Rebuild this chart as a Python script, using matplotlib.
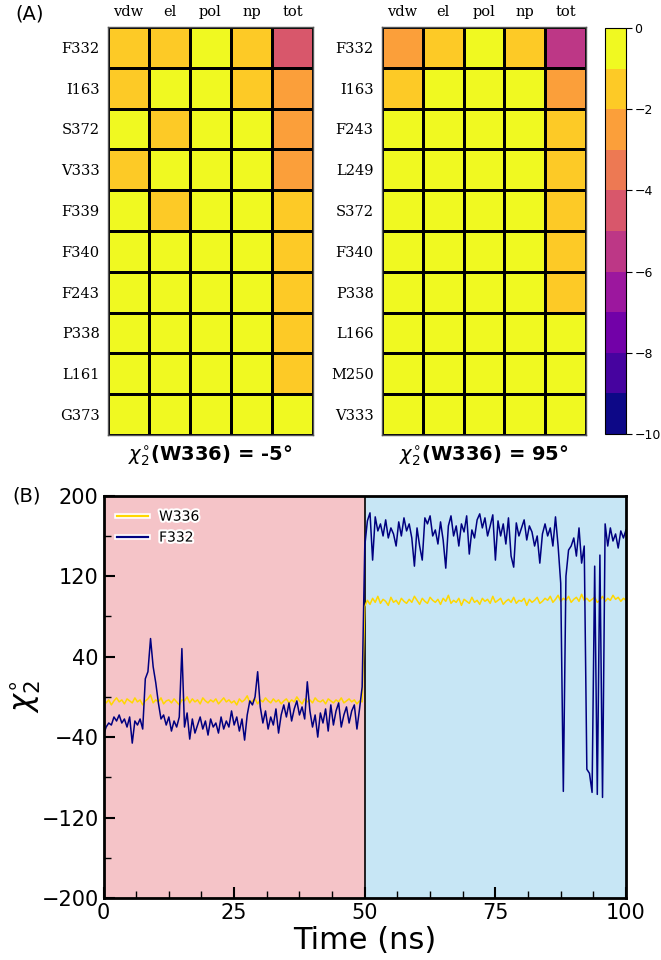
import numpy as np
import matplotlib
matplotlib.use("Agg")
import matplotlib.pyplot as plt
import matplotlib.patheffects as pe

# ---- panel A data: per-residue energy decomposition (kcal/mol)
terms = ["vdw", "el", "pol", "np", "tot"]

res_m5 = ["F332", "I163", "S372", "V333", "F339", "F340", "F243", "P338", "L161", "G373"]
energy_m5 = np.array([
    [-1.5, -1.4, -0.3, -1.6, -4.6],
    [-1.3, -0.5, -0.1, -1.2, -2.6],
    [-0.4, -1.3, -0.2, -0.3, -2.5],
    [-1.2, -0.3, -0.1, -0.6, -2.3],
    [-0.2, -1.5, -0.1, -0.2, -1.8],
    [-0.5, -0.3, -0.1, -0.4, -1.4],
    [-0.6, -0.2, -0.1, -0.5, -1.3],
    [-0.4, -0.2, -0.1, -0.3, -1.2],
    [-0.5, -0.3, -0.1, -0.4, -1.1],
    [-0.4, -0.2, -0.1, -0.3, -0.8],
])

res_95 = ["F332", "I163", "F243", "L249", "S372", "F340", "P338", "L166", "M250", "V333"]
energy_95 = np.array([
    [-2.4, -1.5, -0.2, -1.6, -5.4],
    [-1.6, -0.5, -0.1, -0.8, -2.7],
    [-0.7, -0.3, -0.1, -0.6, -1.6],
    [-0.6, -0.3, -0.1, -0.5, -1.5],
    [-0.5, -0.6, -0.1, -0.4, -1.4],
    [-0.5, -0.3, -0.1, -0.4, -1.3],
    [-0.4, -0.3, -0.1, -0.3, -1.2],
    [-0.4, -0.1, -0.1, -0.3, -0.9],
    [-0.4, -0.2, -0.1, -0.3, -0.8],
    [-0.3, -0.2, -0.1, -0.3, -0.7],
])

# ---- panel B data: chi2 dihedral vs time (0.5 ns steps)
w336_first = [-2, -6, -3, -8, -4, -1, -5, -3, -7, -2, -4, -6, -1, -5, -3, -8, -4, -2, 2, -6,
              -3, -5, -1, -7, -4, -3, -6, -2, -5, -8, -3, -4, 0, -6, -2, -5, -3, -7, -1, -4,
              -6, -3, -5, -2, -7, -4, -1, -5, -3, -6, -4, -8, -2, -5, -3, 1, -6, -4, -2, -7,
              -3, -5, -1, -4, -6, -2, -5, -3, -7, -4, -2, -6, -3, -5, 0, -4, -7, -2, -5, -3,
              -6, -1, -4, -5, -3, -7, -2, -4, -6, -3, -5, -1, -6, -4, -2, -5, -3, -7, -4, -5]
w336_second = [90, 96, 92, 98, 94, 100, 93, 97, 95, 91, 99, 94, 96, 92, 98, 95, 93, 97, 94, 100,
               96, 92, 98, 95, 93, 99, 96, 94, 97, 92, 98, 95, 101, 93, 96, 94, 98, 91, 97, 95,
               93, 99, 94, 96, 92, 98, 95, 97, 93, 100, 94, 96, 98, 92, 95, 97, 94, 99, 93, 96,
               95, 98, 91, 97, 94, 96, 99, 93, 95, 98, 96, 100, 94, 97, 101, 95, 98, 96, 100, 94,
               97, 99, 95, 102, 96, 98, 95, 97, 99, 94, 96, 100, 95, 98, 96, 101, 97, 99, 95, 98, 96]

f332_first = [-38, -30, -26, -28, -20, -24, -18, -26, -22, -30, -20, -46, -24, -28, -22, -32, 18, 25, 58, 30,
              14, -6, -22, -18, -28, -20, -34, -24, -30, -20, 48, -30, -16, -42, -22, -36, -28, -20, -32, -24,
              -38, -22, -30, -26, -36, -20, -32, -24, -30, -14, -28, -20, -34, -22, -43, -18, -4, -8, 0, 25,
              -10, -26, -14, -32, -20, -28, -12, -36, -18, -8, -20, -6, -24, -12, -4, -18, -10, -22, 15, -14,
              -30, -18, -40, -16, -26, -12, -34, -8, -28, -14, -6, -30, -18, -10, -26, -14, -8, -32, -12, 10]
f332_second = [150, 175, 183, 136, 179, 165, 172, 160, 176, 158, 168, 162, 150, 174, 160, 178, 165, 172, 158, 130,
               168, 150, 136, 178, 172, 180, 160, 166, 152, 174, 156, 128, 170, 180, 160, 170, 150, 172, 164, 180,
               142, 166, 158, 176, 182, 168, 178, 160, 170, 181, 136, 175, 160, 172, 152, 178, 140, 129, 173, 160,
               168, 176, 156, 170, 164, 150, 160, 133, 162, 172, 160, 168, 150, 179, 150, 113, -94, 120, 146, 150,
               158, 140, 168, 133, 150, -72, -76, -95, 130, -97, 141, -100, 172, 150, 168, 155, 162, 148, 165, 158, 166]

t_first = np.linspace(0, 49.5, len(w336_first))
t_second = np.linspace(50, 100, len(w336_second))
time_w336 = np.concatenate([t_first, t_second])
chi_w336 = np.concatenate([w336_first, w336_second])
time_f332 = np.concatenate([np.linspace(0, 49.5, len(f332_first)), np.linspace(50, 100, len(f332_second))])
chi_f332 = np.concatenate([f332_first, f332_second])

# ---- figure
fig = plt.figure(figsize=(6.61, 9.6), dpi=100)
cmap = plt.get_cmap("plasma", 10)

def draw_heat(rect, values, residues, title):
    ax = fig.add_axes(rect)
    mesh = ax.pcolormesh(values, cmap=cmap, vmin=-10, vmax=0, edgecolors="black", linewidth=0.9)
    ax.set_xlim(0, values.shape[1])
    ax.set_ylim(values.shape[0], 0)
    ax.set_xticks(np.arange(values.shape[1]) + 0.5)
    ax.set_xticklabels(terms, family="DejaVu Serif", fontsize=10.5)
    ax.set_yticks(np.arange(values.shape[0]) + 0.5)
    ax.set_yticklabels(residues, family="DejaVu Serif", fontsize=10.5)
    ax.xaxis.tick_top()
    ax.tick_params(length=0, pad=6)
    for s in ax.spines.values():
        s.set_color("#555555")
        s.set_linewidth(1.0)
    ax.set_xlabel(title, fontsize=14, fontweight="bold", labelpad=6)
    return mesh

draw_heat([0.1634, 0.5469, 0.310, 0.425], energy_m5, res_m5, r"$\chi^{\circ}_{2}$(W336) = -5°")
mesh = draw_heat([0.578, 0.5469, 0.3086, 0.425], energy_95, res_95, r"$\chi^{\circ}_{2}$(W336) = 95°")

cax = fig.add_axes([0.9153, 0.5479, 0.0318, 0.4229])
cb = fig.colorbar(mesh, cax=cax, ticks=[0, -2, -4, -6, -8, -10])
cb.ax.tick_params(labelsize=9, length=4, pad=2)
cb.outline.set_linewidth(0.8)

fig.text(0.024, 0.985, "(A)", fontsize=14, va="center", ha="left")

# ---- panel B
ax = fig.add_axes([0.1566, 0.0646, 0.7905, 0.419])
ax.axvspan(0, 50, color="#F5C4C8", lw=0)
ax.axvspan(50, 100, color="#C7E6F5", lw=0)
ax.axvline(50, color="black", lw=1.2)
ax.plot(time_w336, chi_w336, color="#FFD700", lw=1.1, label="W336")
ax.plot(time_f332, chi_f332, color="#000080", lw=1.1, label="F332")
ax.set_xlim(0, 100)
ax.set_ylim(-200, 200)
ax.set_xticks([0, 25, 50, 75, 100])
ax.set_xticks(np.arange(0, 100.1, 6.25), minor=True)
ax.set_yticks([-200, -120, -40, 40, 120, 200])
ax.set_yticks([-160, -80, 0, 80, 160], minor=True)
ax.tick_params(which="major", direction="in", length=8, width=1.5, labelsize=15)
ax.tick_params(which="minor", direction="in", length=5, width=1.0)
for s in ax.spines.values():
    s.set_linewidth(2)
ax.set_xlabel("Time (ns)", fontsize=22, labelpad=2)
ax.set_ylabel(r"$\chi^{\circ}_{2}$", fontsize=22)
ax.yaxis.set_label_coords(-0.115, 0.5)
leg = ax.legend(loc="upper left", frameon=False, fontsize=10, handlelength=2.2,
                borderaxespad=0.6)
for txt in leg.get_texts():
    txt.set_path_effects([pe.withStroke(linewidth=3, foreground="white")])
for ln in leg.get_lines():
    ln.set_linewidth(1.6)
    ln.set_path_effects([pe.withStroke(linewidth=4, foreground="white")])

fig.text(0.018, 0.4833, "(B)", fontsize=14, va="center", ha="left")

fig.savefig("out.png", dpi=100)
